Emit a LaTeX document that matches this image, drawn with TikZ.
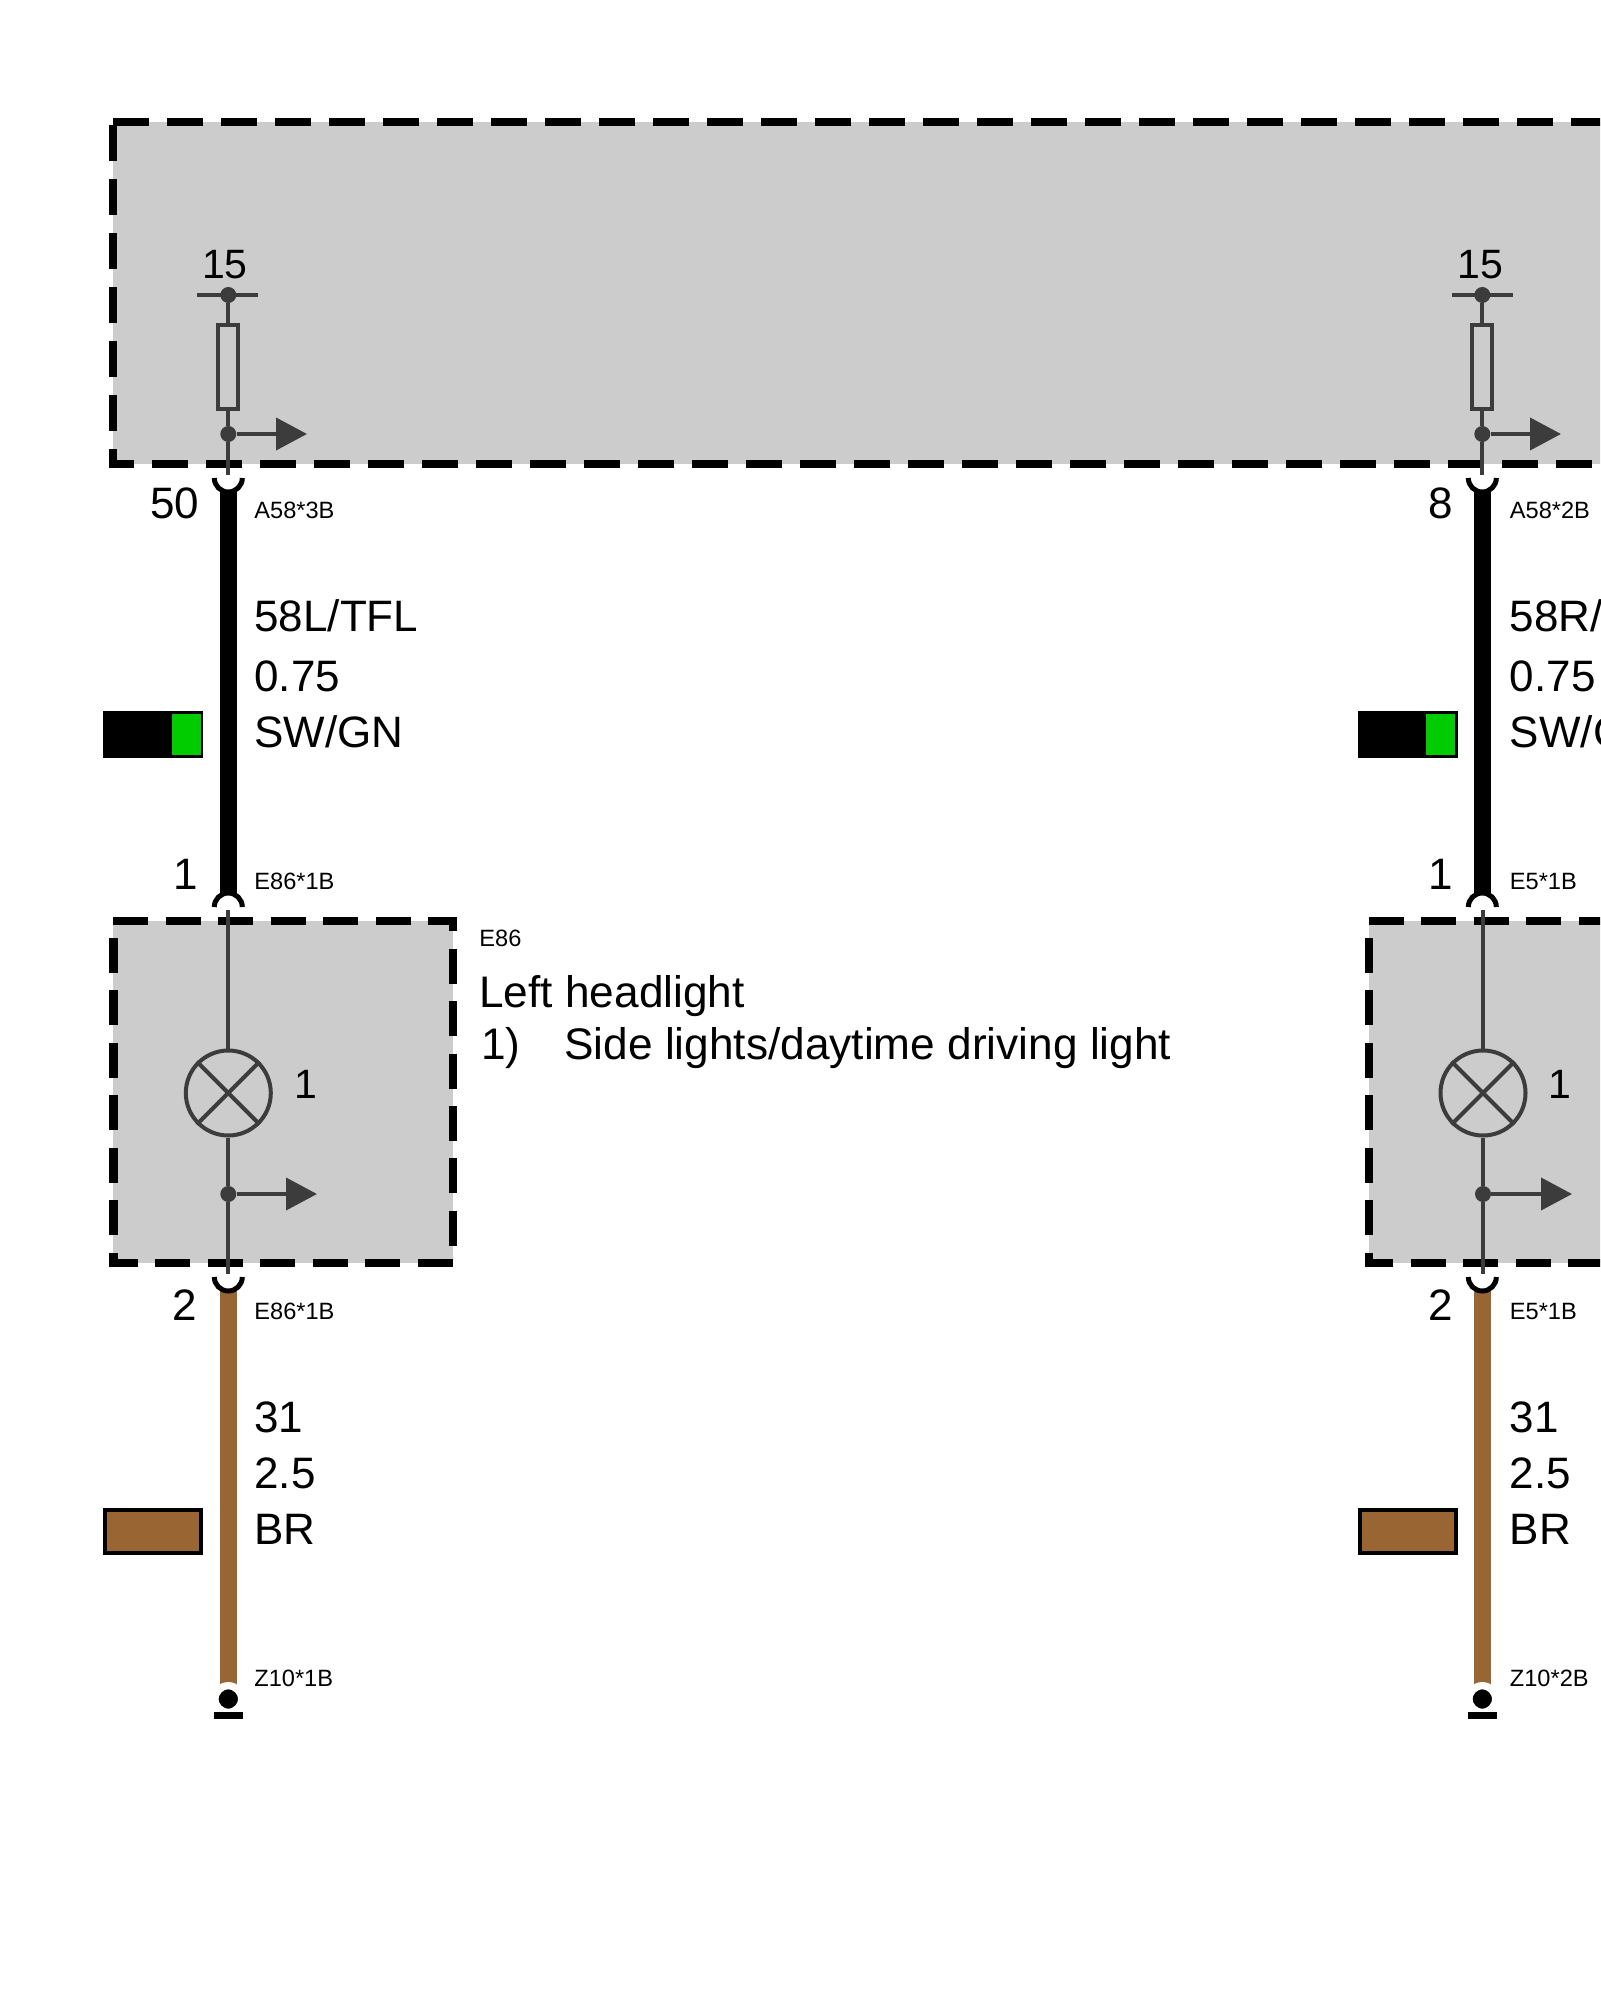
\documentclass[tikz,border=0pt]{standalone}
\usepackage{fontspec}
\setmainfont{Liberation Sans}
\usetikzlibrary{arrows.meta}
\definecolor{boxgrey}{HTML}{CCCCCC}
\definecolor{inkgrey}{HTML}{3C3C3C}
\definecolor{wirebrown}{HTML}{996633}
\definecolor{wiregreen}{HTML}{00CC00}
\tikzset{
  bigtxt/.style={anchor=base west, inner sep=0pt, font=\fontsize{22}{24}\selectfont},
  headtxt/.style={anchor=base west, inner sep=0pt, font=\fontsize{22.1}{24}\selectfont},
  pintxt/.style={anchor=base, inner sep=0pt, font=\fontsize{22}{24}\selectfont},
  feedtxt/.style={anchor=base, inner sep=0pt, font=\fontsize{20.5}{22}\selectfont},
  smalltxt/.style={anchor=base west, inner sep=0pt, font=\fontsize{11.8}{13}\selectfont},
  bigdash/.style={black, line width=4.2pt, dash pattern=on 18pt off 9pt},
  boxdash/.style={black, line width=4.2pt, dash pattern=on 17.49pt off 8.745pt},
  stub/.style={inkgrey, line width=2pt},
  tap/.style={stub, -{Triangle[length=15.5pt, width=16pt]}},
  dot/.style={circle, fill=inkgrey, inner sep=0pt, minimum size=8pt},
  fuse/.style={draw=inkgrey, line width=2pt, inner sep=0pt, minimum width=10pt, minimum height=42pt},
  lamp/.style={circle, draw=inkgrey, line width=2pt, inner sep=0pt, minimum size=42.5pt},
  cup/.style={black, line width=2.5pt},
  blackwire/.style={black, line width=8.4pt},
  brownwire/.style={wirebrown, line width=8.4pt},
  pinball/.style={circle, fill=black, draw=white, line width=3.65pt, inner sep=0pt, minimum size=13.3pt},
  pinbar/.style={fill=black, inner sep=0pt, minimum width=14.5pt, minimum height=3.5pt},
  swatch/.style={draw=black, line width=2pt, inner sep=0pt, minimum width=48pt, minimum height=21.5pt},
}
\begin{document}
\begin{tikzpicture}[x=.5pt, y=-.5pt]
  \clip (0,0) rectangle (1600,2000);
  % control unit
  \coordinate (tl) at (113,122);
  \coordinate (tr) at (1640,122);
  \coordinate (bl) at (113,464);
  \coordinate (br) at (1640,464);
  \fill[boxgrey] (tl) -- (tr) -- (br) -- (bl) -- cycle;
  \draw[bigdash, dash phase=0pt] (tl) -- (tr);
  \draw[bigdash, dash phase=25.5pt] (tl) -- (bl) -- (br);

  % left headlight box
  \coordinate (e0) at (113.3,921);
  \coordinate (e1) at (453,921);
  \coordinate (e2) at (453,1263);
  \coordinate (e3) at (113.3,1263);
  \fill[boxgrey] (e0) -- (e1) -- (e2) -- (e3) -- cycle;
  \draw[boxdash] (e0) -- (e1) -- (e2) -- (e3) -- cycle;

  % right headlight box
  \coordinate (f0) at (1368.9,921);
  \coordinate (f1) at (1708.6,921);
  \coordinate (f2) at (1708.6,1263);
  \coordinate (f3) at (1368.9,1263);
  \fill[boxgrey] (f0) -- (f1) -- (f2) -- (f3) -- cycle;
  \draw[boxdash] (f0) -- (f1) -- (f2) -- (f3) -- cycle;

  % left column, inside the control unit
  \coordinate (a0l) at (197,295);
  \coordinate (a0r) at (258,295);
  \node[dot] (a0) at (228.3,295) {};
  \node[fuse] (a1) at (228.3,367) {};
  \node[dot] (a2) at (228.3,434) {};
  \coordinate (a3) at (228.3,475);
  \coordinate (a4) at (307,434);
  \draw[stub] (a0l) -- (a0r);
  \draw[stub] (a0) -- (a1);
  \draw[stub] (a1) -- (a2);
  \draw[stub] (a2) -- (a3);
  \draw[tap] (a2) -- (a4);
  \node[feedtxt] (a5) at (225,279) {15};

  % left column, black wire
  \coordinate (b0) at (228.3,492);
  \coordinate (b1) at (228.3,893);
  \coordinate (b2) at (214.3,478);
  \coordinate (b3) at (214.3,907);
  \draw[blackwire] (b0) -- (b1);
  \draw[cup] (b2) arc[start angle=180, end angle=360, radius=7pt];
  \draw[cup] (b3) arc[start angle=180, end angle=0, radius=7pt];
  \node[pintxt] (b4) at (174.5,518) {50};
  \node[smalltxt] (b5) at (254,518) {A58*3B};
  \node[bigtxt] (b6) at (254,631.5) {58L/TFL};
  \node[bigtxt] (b7) at (254,691.5) {0.75};
  \node[bigtxt] (b8) at (254,747.5) {SW/GN};
  \node[swatch, fill=black] (b9) at (153,734.5) {};
  \node[fill=wiregreen, inner sep=0pt, minimum width=14.5pt, minimum height=20.5pt] (b10) at (186,734.5) {};
  \node[pintxt] (b11) at (185.5,889) {1};
  \node[smalltxt] (b12) at (254,889) {E86*1B};

  % left column, lamp
  \coordinate (c0) at (228.3,910);
  \node[lamp] (c1) at (228.3,1093) {};
  \node[dot] (c2) at (228.3,1194) {};
  \coordinate (c3) at (228.3,1274);
  \coordinate (c4) at (317,1194);
  \draw[stub] (c0) -- (c1);
  \draw[stub] (c1) -- (c2);
  \draw[stub] (c2) -- (c3);
  \draw[tap] (c2) -- (c4);
  \draw[stub] (c1.45) -- (c1.225);
  \draw[stub] (c1.135) -- (c1.315);
  \node[feedtxt] (c5) at (306,1098) {1};
  \node[smalltxt] (c6) at (479,946) {E86};
  \node[headtxt] (c7) at (479,1007) {Left headlight};
  \node[headtxt] (c8) at (481,1059) {1)};
  \node[headtxt] (c9) at (564,1059) {Side lights/daytime driving light};

  % left column, brown wire
  \coordinate (d0) at (228.3,1291);
  \coordinate (d1) at (228.3,1699);
  \coordinate (d2) at (214.3,1277);
  \draw[brownwire] (d0) -- (d1);
  \draw[cup] (d2) arc[start angle=180, end angle=360, radius=7pt];
  \node[pinball] (d3) at (d1) {};
  \node[pinbar] (d4) at (228.5,1715.5) {};
  \node[pintxt] (d5) at (185,1320) {2};
  \node[smalltxt] (d6) at (254,1319) {E86*1B};
  \node[bigtxt] (d7) at (254,1432.5) {31};
  \node[bigtxt] (d8) at (254,1488.5) {2.5};
  \node[bigtxt] (d9) at (254,1544.5) {BR};
  \node[swatch, fill=wirebrown] (d10) at (153,1531.5) {};
  \node[smalltxt] (d11) at (254,1686) {Z10*1B};

  % right column, inside the control unit
  \coordinate (g0l) at (1452,295);
  \coordinate (g0r) at (1513,295);
  \node[dot] (g0) at (1482.3,295) {};
  \node[fuse] (g1) at (1482.3,367) {};
  \node[dot] (g2) at (1482.3,434) {};
  \coordinate (g3) at (1482.3,475);
  \coordinate (g4) at (1561,434);
  \draw[stub] (g0l) -- (g0r);
  \draw[stub] (g0) -- (g1);
  \draw[stub] (g1) -- (g2);
  \draw[stub] (g2) -- (g3);
  \draw[tap] (g2) -- (g4);
  \node[feedtxt] (g5) at (1480,279) {15};

  % right column, black wire
  \coordinate (h0) at (1482.3,492);
  \coordinate (h1) at (1482.3,893);
  \coordinate (h2) at (1468.3,478);
  \coordinate (h3) at (1468.3,907);
  \draw[blackwire] (h0) -- (h1);
  \draw[cup] (h2) arc[start angle=180, end angle=360, radius=7pt];
  \draw[cup] (h3) arc[start angle=180, end angle=0, radius=7pt];
  \node[pintxt] (h4) at (1441,518) {8};
  \node[smalltxt] (h5) at (1509.5,518) {A58*2B};
  \node[bigtxt] (h6) at (1509.5,631.5) {58R/TFL};
  \node[bigtxt] (h7) at (1509.5,691.5) {0.75};
  \node[bigtxt] (h8) at (1509.5,747.5) {SW/GN};
  \node[swatch, fill=black] (h9) at (1408,734.5) {};
  \node[fill=wiregreen, inner sep=0pt, minimum width=14.5pt, minimum height=20.5pt] (h10) at (1440.5,734.5) {};
  \node[pintxt] (h11) at (1441,889) {1};
  \node[smalltxt] (h12) at (1509.5,889) {E5*1B};

  % right column, lamp
  \coordinate (j0) at (1483,910);
  \node[lamp] (j1) at (1483,1093) {};
  \node[dot] (j2) at (1483,1194) {};
  \coordinate (j3) at (1483,1274);
  \coordinate (j4) at (1572,1194);
  \draw[stub] (j0) -- (j1);
  \draw[stub] (j1) -- (j2);
  \draw[stub] (j2) -- (j3);
  \draw[tap] (j2) -- (j4);
  \draw[stub] (j1.45) -- (j1.225);
  \draw[stub] (j1.135) -- (j1.315);
  \node[feedtxt] (j5) at (1560,1098) {1};

  % right column, brown wire
  \coordinate (k0) at (1482.3,1291);
  \coordinate (k1) at (1482.3,1699);
  \coordinate (k2) at (1468.3,1277);
  \draw[brownwire] (k0) -- (k1);
  \draw[cup] (k2) arc[start angle=180, end angle=360, radius=7pt];
  \node[pinball] (k3) at (k1) {};
  \node[pinbar] (k4) at (1482.5,1715.5) {};
  \node[pintxt] (k5) at (1441,1320) {2};
  \node[smalltxt] (k6) at (1509.5,1319) {E5*1B};
  \node[bigtxt] (k7) at (1509.5,1432.5) {31};
  \node[bigtxt] (k8) at (1509.5,1488.5) {2.5};
  \node[bigtxt] (k9) at (1509.5,1544.5) {BR};
  \node[swatch, fill=wirebrown] (k10) at (1408,1531.5) {};
  \node[smalltxt] (k11) at (1509.5,1686) {Z10*2B};
\end{tikzpicture}
\end{document}
